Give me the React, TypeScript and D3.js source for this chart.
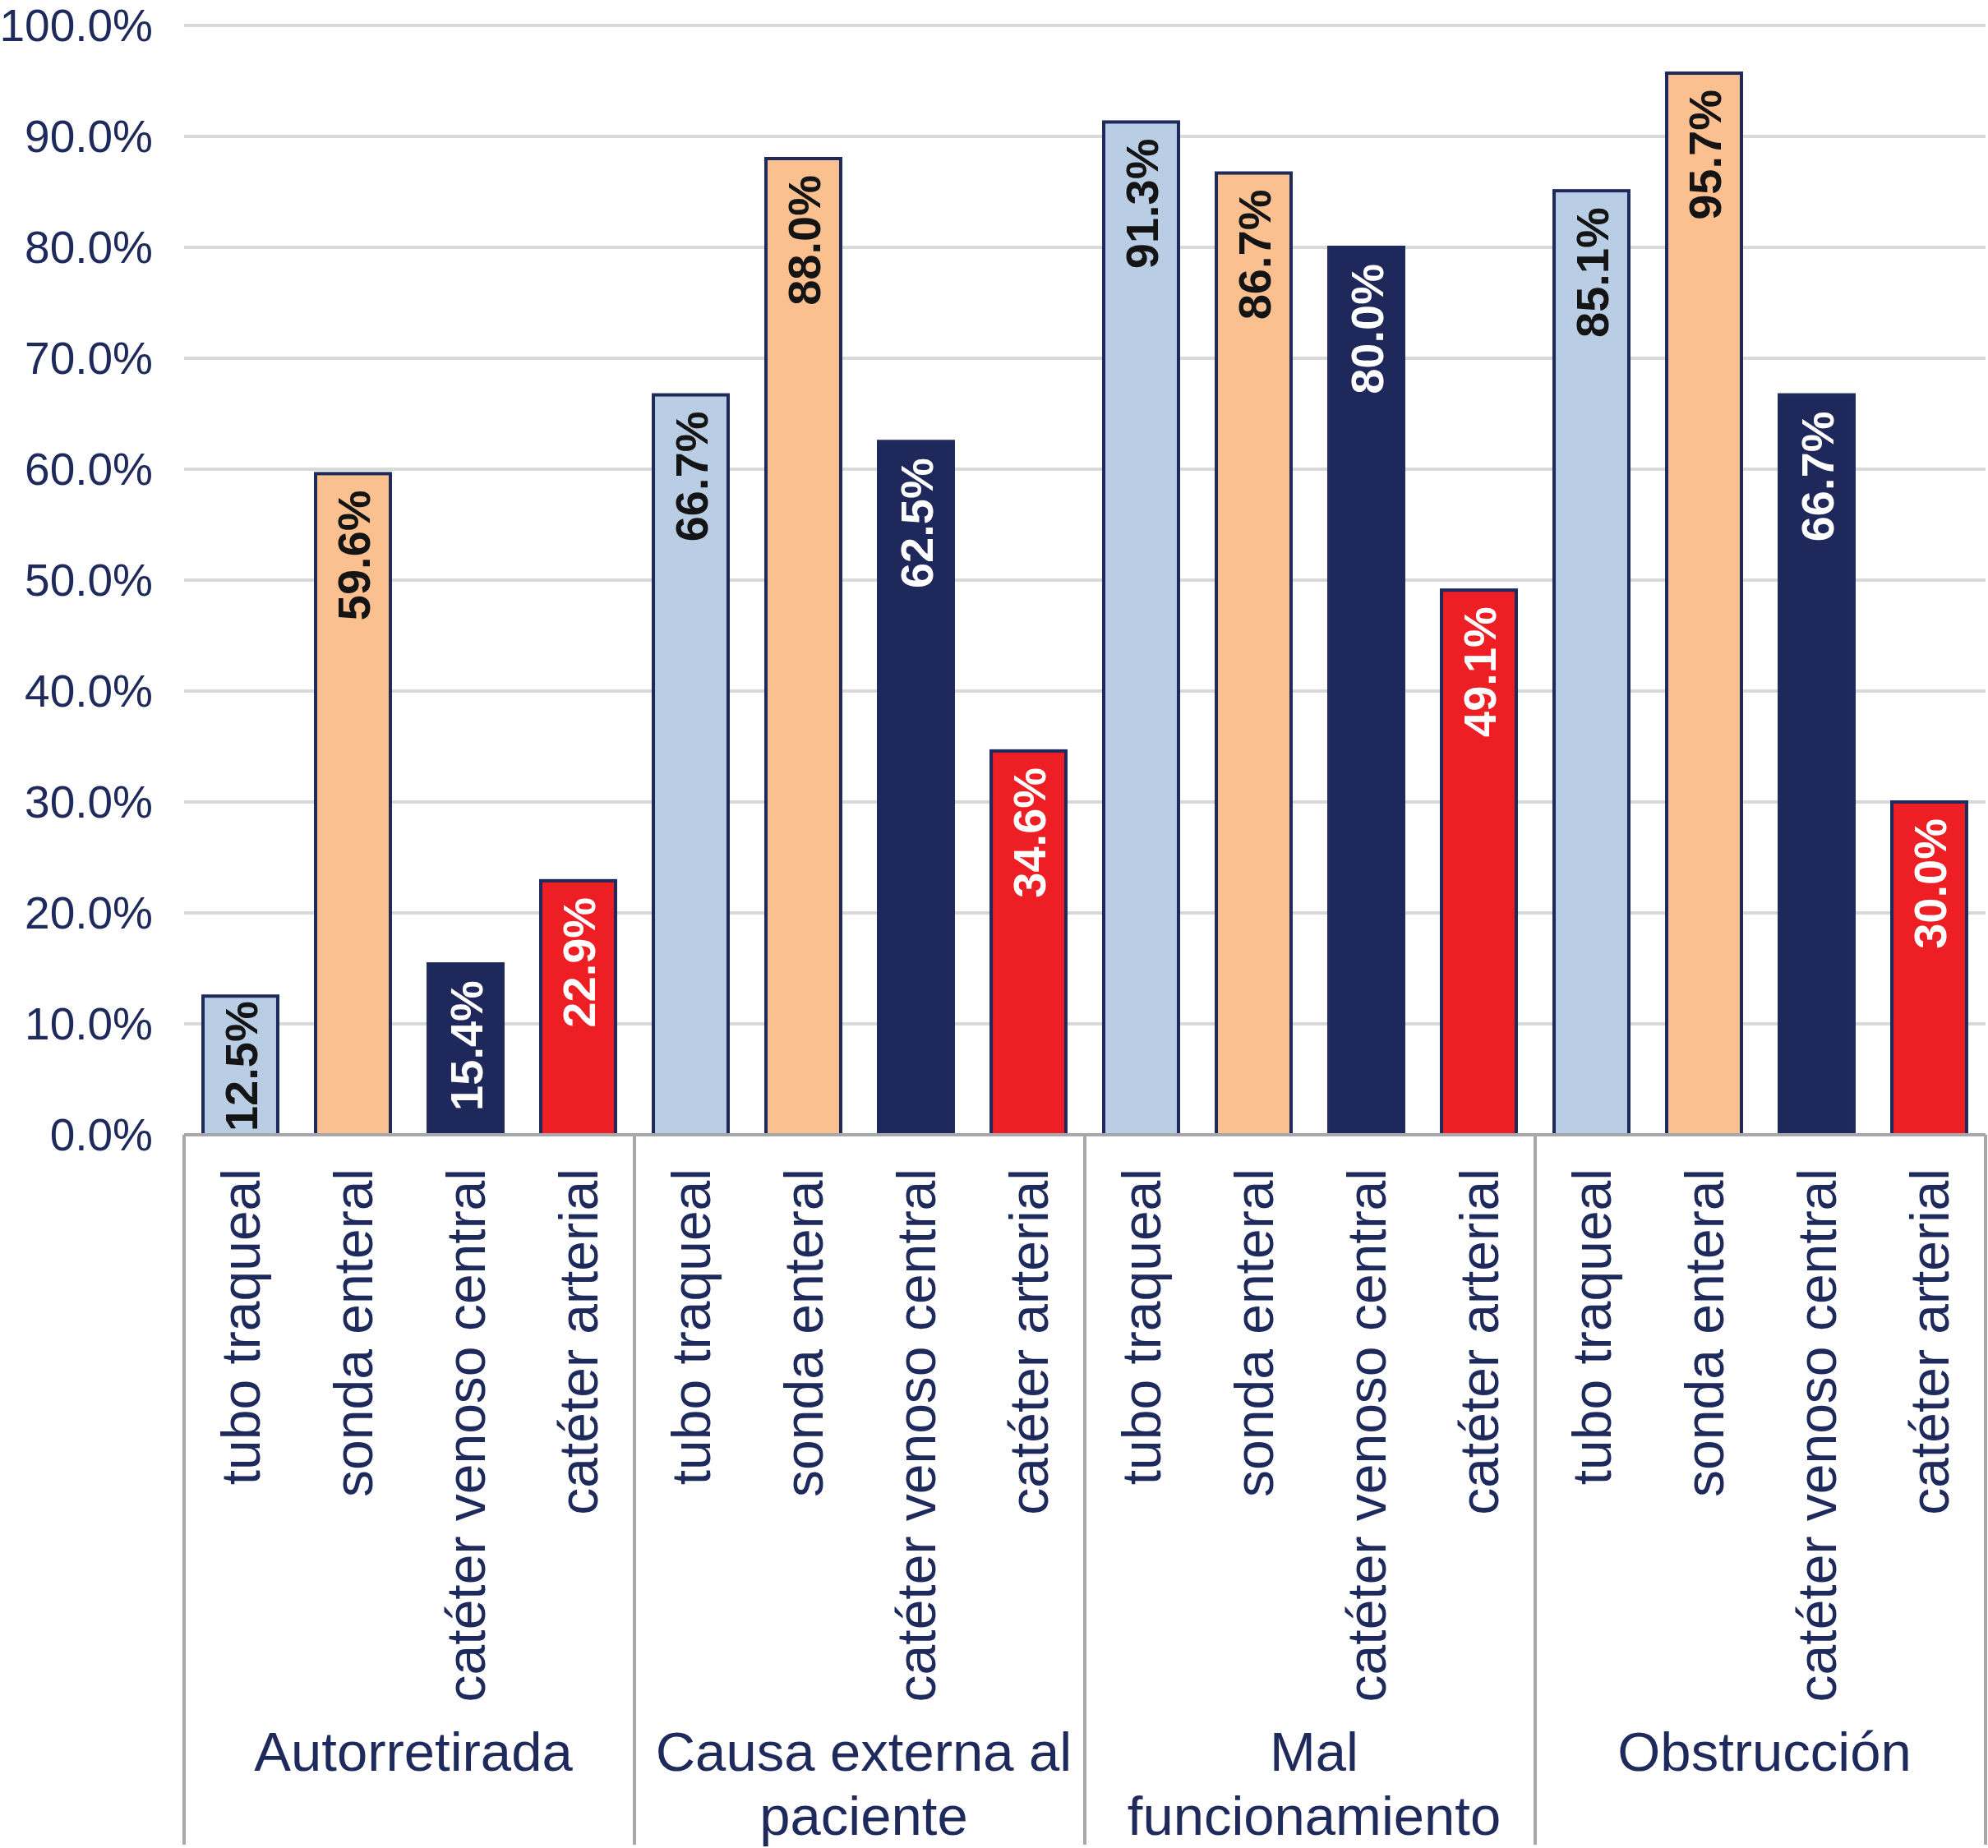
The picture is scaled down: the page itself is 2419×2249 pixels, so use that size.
import React from "react";
import * as d3 from "d3";

// groups (causes) and the devices inside each group
const groups = ["Autorretirada", "Causa externa al paciente", "Mal funcionamiento", "Obstrucción"];
const groupLines = [["Autorretirada"], ["Causa externa al", "paciente"], ["Mal", "funcionamiento"], ["Obstrucción"]];
const devices = ["tubo traqueal", "sonda enteral", "catéter venoso central", "catéter arterial"];

// percentage per group, in device order
const autorretirada = [12.5, 59.6, 15.4, 22.9];
const causaExterna = [66.7, 88.0, 62.5, 34.6];
const malFuncionamiento = [91.3, 86.7, 80.0, 49.1];
const obstruccion = [85.1, 95.7, 66.7, 30.0];
const values = [autorretirada, causaExterna, malFuncionamiento, obstruccion];

const yTicks = [0, 10, 20, 30, 40, 50, 60, 70, 80, 90, 100];

const fills = ["#b9cde5", "#fac090", "#1f285a", "#ed1f24"];
const labelColors = ["#141414", "#141414", "#ffffff", "#ffffff"];

const W = 2419;
const H = 2249;
const font = "'Liberation Sans', Arial, Helvetica, sans-serif";
const navy = "#1f2a5c";

export default function App() {
  const margin = { top: 31, right: 3, bottom: 868, left: 224 };
  const plotRight = W - margin.right;
  const plotBottom = H - margin.bottom;

  const x0 = d3.scaleBand<string>().domain(groups).range([margin.left, plotRight]).padding(0);
  const x1 = d3
    .scaleBand<string>()
    .domain(devices)
    .range([0, x0.bandwidth()])
    .paddingInner(0.336)
    .paddingOuter(0.168);
  const y = d3.scaleLinear().domain([0, 100]).range([plotBottom, margin.top]);

  const valueFont = 56;
  const valueLen = valueFont * 2.835; // rough width of "00.0%" in bold
  const labelPad = 20;

  return (
    <svg
      width={W}
      height={H}
      style={{ position: "absolute", left: 0, top: 0, background: "#fff" }}
      fontFamily={font}
    >
      {/* gridlines + y labels */}
      {yTicks.map((t) => (
        <g key={t}>
          {t > 0 && (
            <line x1={margin.left} x2={plotRight} y1={y(t)} y2={y(t)} stroke="#d9d9d9" strokeWidth={4} />
          )}
          <text x={186} y={y(t)} dy="0.34em" textAnchor="end" fontSize={55} fill={navy}>
            {t.toFixed(1)}%
          </text>
        </g>
      ))}

      {/* bars */}
      {groups.map((g, gi) => (
        <g key={g} transform={`translate(${x0(g)},0)`}>
          {devices.map((d, di) => {
            const v = values[gi][di];
            const bx = x1(d)!;
            const cx = bx + x1.bandwidth() / 2;
            const barH = y(0) - y(v);
            const pad = Math.max(6, Math.min(labelPad, barH - valueLen - 8));
            return (
              <g key={d}>
                <rect
                  x={bx}
                  y={y(v)}
                  width={x1.bandwidth()}
                  height={barH}
                  fill={fills[di]}
                  stroke={navy}
                  strokeWidth={4}
                />
                <text
                  transform={`translate(${cx},${y(v) + pad}) rotate(-90)`}
                  dy="0.36em"
                  textAnchor="end"
                  fontSize={valueFont}
                  fontWeight="bold"
                  fill={labelColors[di]}
                >
                  {v.toFixed(1)}%
                </text>
                <text
                  transform={`translate(${cx},${plotBottom + 41}) rotate(-90)`}
                  dy="0.35em"
                  textAnchor="end"
                  fontSize={66}
                  fill={navy}
                >
                  {d}
                </text>
              </g>
            );
          })}
          {groupLines[gi].map((line, li) => (
            <text
              key={li}
              x={x0.bandwidth() / 2 + 5}
              y={2155 + li * 78}
              textAnchor="middle"
              fontSize={67}
              fill={navy}
            >
              {line}
            </text>
          ))}
        </g>
      ))}

      {/* category axis */}
      <line x1={margin.left} x2={plotRight} y1={y(0)} y2={y(0)} stroke="#a6a8ab" strokeWidth={4} />
      {[...groups.map((g) => x0(g)!), plotRight].map((sx, i) => (
        <line key={i} x1={sx} x2={sx} y1={y(0)} y2={2245} stroke="#a6a8ab" strokeWidth={4} />
      ))}
    </svg>
  );
}
